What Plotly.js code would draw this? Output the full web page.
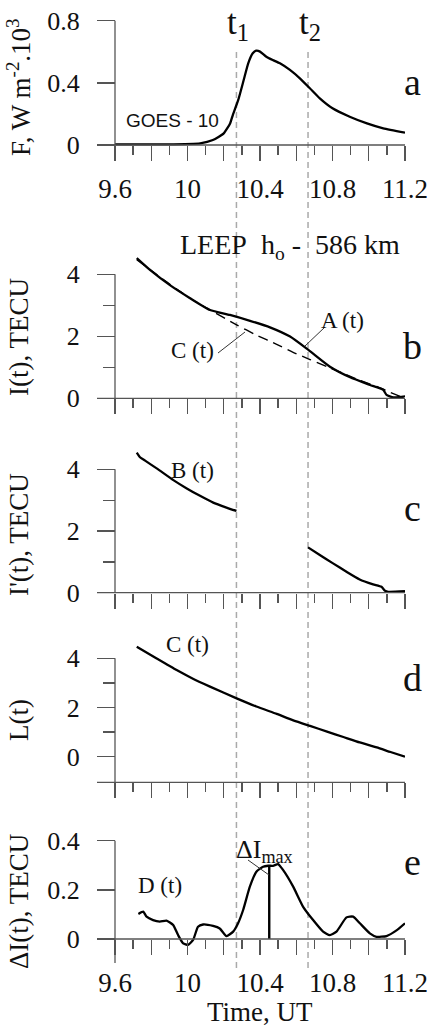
<!DOCTYPE html>
<html>
<head>
<meta charset="utf-8">
<script src="https://cdn.plot.ly/plotly-3.0.1.min.js"></script>
<style>
  html, body { margin: 0; padding: 0; background: #fff; }
  #chart { width: 429px; height: 1026px; }
</style>
</head>
<body>
<div id="chart"></div>
<script>
// ---- data -------------------------------------------------------------
// (a) X-ray flux, GOES-10
const fluxTime = [9.6, 9.885, 10.07, 10.14, 10.2, 10.235, 10.25, 10.28, 10.31, 10.335, 10.36, 10.38, 10.4, 10.435, 10.47, 10.51, 10.565, 10.62, 10.675, 10.73, 10.8, 10.895, 10.99, 11.08, 11.2];
const fluxValue = [0.004, 0.004, 0.011, 0.032, 0.075, 0.139, 0.193, 0.29, 0.418, 0.526, 0.59, 0.607, 0.601, 0.568, 0.547, 0.526, 0.483, 0.429, 0.365, 0.3, 0.236, 0.182, 0.139, 0.107, 0.079];

// (b) observed TEC, A(t)
const tecTime = [9.72, 9.793, 9.903, 10.014, 10.124, 10.234, 10.345, 10.455, 10.566, 10.667, 10.786, 10.897, 11.007, 11.08, 11.098, 11.136, 11.19, 11.2];
const tecValue = [4.52, 4.14, 3.65, 3.23, 2.85, 2.69, 2.50, 2.29, 1.99, 1.56, 1.02, 0.68, 0.43, 0.27, 0.11, 0.03, 0.05, 0.07];

// (c) TEC with the flare interval removed, B(t)
const cutTime = [9.72, 9.738, 9.766, 9.83, 9.922, 9.996, 10.069, 10.142, 10.215, 10.27, 10.4, 10.665, 10.73, 10.803, 10.877, 10.95, 11.024, 11.07, 11.09, 11.108, 11.2];
const cutValue = [4.54, 4.39, 4.28, 4.03, 3.65, 3.38, 3.14, 2.92, 2.76, 2.65, null, 1.47, 1.22, 0.95, 0.68, 0.43, 0.27, 0.19, 0.06, 0.03, 0.05];

// (d) trend fit, C(t)
const trendTime = [9.72, 9.83, 9.94, 10.03, 10.124, 10.271, 10.38, 10.492, 10.58, 10.676, 10.77, 10.86, 10.95, 11.044, 11.12, 11.2];
const trendValue = [4.47, 3.99, 3.52, 3.17, 2.85, 2.37, 2.04, 1.74, 1.49, 1.25, 1.02, 0.80, 0.58, 0.38, 0.19, 0.0];

// (e) TEC deviation, D(t)
const devTime = [9.729, 9.756, 9.774, 9.81, 9.847, 9.884, 9.921, 9.948, 9.976, 10.003, 10.031, 10.058, 10.086, 10.141, 10.178, 10.215, 10.252, 10.279, 10.307, 10.344, 10.38, 10.417, 10.445, 10.472, 10.5, 10.528, 10.583, 10.638, 10.693, 10.748, 10.785, 10.822, 10.877, 10.914, 10.951, 11.006, 11.043, 11.098, 11.153, 11.2];
const devValue = [0.102, 0.111, 0.091, 0.077, 0.071, 0.075, 0.057, 0.016, -0.018, -0.024, -0.004, 0.05, 0.059, 0.053, 0.043, 0.012, 0.03, 0.064, 0.118, 0.213, 0.274, 0.294, 0.298, 0.298, 0.305, 0.28, 0.213, 0.131, 0.077, 0.03, 0.016, 0.03, 0.088, 0.091, 0.064, 0.023, 0.009, 0.012, 0.035, 0.064];

// peak of the deviation
const peakTime = 10.451;
const peakValue = 0.3;

// flare onset / end markers t1, t2
const eventTimes = [10.27, 10.665];
const eventLabels = ['t<sub>1</sub>', 't<sub>2</sub>'];

// axis ticks
const xTickVals = [9.6, 9.8, 10.0, 10.2, 10.4, 10.6, 10.8, 11.0, 11.2];
const xTickText = ['9.6', '', '10', '', '10.4', '', '10.8', '', '11.2'];
const xMinorVals = [9.7, 9.9, 10.1, 10.3, 10.5, 10.7, 10.9, 11.1];
const tecTickVals = [0, 2, 4];
const tecTickText = ['0', '2', '4'];
const tecMinorVals = [1, 3];
const fluxTickVals = [0, 0.4, 0.8];
const fluxTickText = ['0', '0.4', '0.8'];
const devTickVals = [0, 0.2, 0.4];
const devTickText = ['0', '0.2', '0.4'];

// ---- layout helpers ----------------------------------------------------
const W = 429, H = 1026;
const LEFT = 115, RIGHT = 405, TICK_LEFT = 97;
const px = v => v / W;
const py = v => 1 - v / H;
const SERIF = '"Liberation Serif", "Times New Roman", serif';
const INK = '#111';
const AXC = '#555';

// value v0 sits at pixel row p0, v1 at p1; return domain for range [lo, hi]
function yPlacement(v0, p0, v1, p1, lo, hi) {
  const s = (p0 - p1) / (v1 - v0);
  const pLo = p0 + (v0 - lo) * s;
  const pHi = p0 - (hi - v0) * s;
  return { domain: [py(pLo), py(pHi)], range: [lo, hi] };
}

const panels = [
  { place: yPlacement(0, 145, 0.8, 20.7, -0.03, 0.85), axisRow: 145, top: 20.7, bottom: 145,
    tv: fluxTickVals, tt: fluxTickText, minor: [], labels: true },
  { place: yPlacement(0, 398.3, 4, 274.3, -0.15, 4.75), axisRow: 398.3, top: 274.3, bottom: 398.3,
    tv: tecTickVals, tt: tecTickText, minor: tecMinorVals, labels: false },
  { place: yPlacement(0, 592.7, 4, 469.3, -0.15, 4.75), axisRow: 592.7, top: 469.3, bottom: 592.7,
    tv: tecTickVals, tt: tecTickText, minor: tecMinorVals, labels: false },
  { place: yPlacement(0, 756.7, 4, 658.3, -0.25, 4.75), axisRow: 782.3, top: 658.3, bottom: 782.3,
    tv: tecTickVals, tt: tecTickText, minor: tecMinorVals, labels: false },
  { place: yPlacement(0, 939, 0.4, 840.7, -0.05, 0.45), axisRow: 939, top: 840.7, bottom: 963,
    tv: devTickVals, tt: devTickText, minor: [], labels: true }
];

const layout = {
  width: W, height: H,
  margin: { l: 0, r: 0, t: 0, b: 0 },
  paper_bgcolor: '#fff', plot_bgcolor: 'rgba(0,0,0,0)',
  showlegend: false,
  shapes: [], annotations: []
};

panels.forEach((p, i) => {
  const n = i === 0 ? '' : String(i + 1);
  layout['xaxis' + n] = {
    domain: [px(LEFT), px(RIGHT)], range: [9.6, 11.2],
    anchor: 'free', position: py(p.axisRow),
    showline: false, showgrid: false, zeroline: false,
    ticks: 'outside', ticklen: 15, tickwidth: 1.3, tickcolor: AXC,
    tickmode: 'array', tickvals: xTickVals, ticktext: xTickText,
    minor: { tickmode: 'array', tickvals: xMinorVals, ticks: 'outside', ticklen: 9, tickwidth: 1.3, tickcolor: AXC },
    showticklabels: p.labels, ticklabelstandoff: 5,
    tickfont: { family: SERIF, size: 27, color: INK }
  };
  const yax = {
    domain: p.place.domain, range: p.place.range,
    anchor: 'free', position: px(LEFT),
    showline: false, showgrid: false, zeroline: false,
    ticks: 'outside', ticklen: 18, tickwidth: 1.3, tickcolor: AXC,
    tickmode: 'array', tickvals: p.tv, ticktext: p.tt,
    ticklabelstandoff: 12,
    tickfont: { family: SERIF, size: 26, color: INK }
  };
  if (p.minor.length) {
    yax.minor = { tickmode: 'array', tickvals: p.minor, ticks: 'outside', ticklen: 12, tickwidth: 1.3, tickcolor: AXC };
  }
  layout['yaxis' + n] = yax;

  // axis lines
  layout.shapes.push({ type: 'line', xref: 'paper', yref: 'paper',
    x0: px(LEFT), x1: px(LEFT), y0: py(p.top), y1: py(p.bottom),
    line: { color: AXC, width: 1.3 } });
  layout.shapes.push({ type: 'line', xref: 'paper', yref: 'paper',
    x0: px(TICK_LEFT), x1: px(RIGHT), y0: py(p.axisRow), y1: py(p.axisRow),
    line: { color: AXC, width: 1.3 } });
});

// t1 / t2 dashed markers through all panels
eventTimes.forEach((t, i) => {
  layout.shapes.push({ type: 'line', xref: 'x', yref: 'paper', layer: 'below',
    x0: t, x1: t, y0: py(52), y1: py(968),
    line: { color: '#aaa', width: 1.5, dash: '6px,4px' } });
  layout.annotations.push({ xref: 'x', yref: 'paper', x: t, y: py(1), xanchor: 'left', yanchor: 'top', xshift: -11,
    text: eventLabels[i], showarrow: false, font: { family: SERIF, size: 35, color: INK } });
});

// leader lines
[[305, 346, 325, 327], [218, 353, 245, 332], [248, 860, 269, 875]].forEach(s => {
  layout.shapes.push({ type: 'line', xref: 'paper', yref: 'paper',
    x0: px(s[0]), y0: py(s[1]), x1: px(s[2]), y1: py(s[3]),
    line: { color: '#333', width: 1 } });
});

function note(text, x, y, size, opts) {
  layout.annotations.push(Object.assign({
    xref: 'paper', yref: 'paper', x: px(x), y: py(y),
    xanchor: 'center', yanchor: 'middle', text: text, showarrow: false,
    font: { family: SERIF, size: size, color: INK }
  }, opts || {}));
}

// axis titles
note('F, W m<sup>-2</sup>.10<sup>3</sup>', 19, 87, 27, { textangle: -90 });
note('I(t), TECU', 19, 337, 27, { textangle: -90 });
note("I'(t), TECU", 19, 535, 27, { textangle: -90 });
note('L(t)', 19, 720, 27, { textangle: -90 });
note('ΔI(t), TECU', 19, 902, 27, { textangle: -90 });
note('Time, UT', 260, 1012, 27);

// panel letters
note('a', 412, 82, 38);
note('b', 412, 346, 38);
note('c', 412, 508, 38);
note('d', 412, 678, 38);
note('e', 412, 862, 38);

// curve labels
note('GOES - 10', 172, 120, 19, { font: { family: '"Liberation Sans", Arial, sans-serif', size: 19, color: INK } });
note('LEEP\u00a0\u00a0h<sub>o</sub>\u00a0-\u00a0\u00a0586 km', 290, 247, 28);
note('A (t)', 342, 320, 23);
note('C (t)', 192, 351, 23);
note('B (t)', 192, 471, 23);
note('C (t)', 187, 644, 23);
note('D (t)', 160, 885, 23);
note('ΔI<sub>max</sub>', 234, 851, 26, { xanchor: 'left' });

// ---- traces -------------------------------------------------------------
const solid = { color: '#000', width: 2.3, shape: 'spline', smoothing: 0.5 };
const data = [
  { x: fluxTime, y: fluxValue, xaxis: 'x', yaxis: 'y', mode: 'lines', line: solid },
  { x: trendTime, y: trendValue, xaxis: 'x2', yaxis: 'y2', mode: 'lines',
    line: { color: '#000', width: 1.4, dash: '10px,6px', shape: 'spline', smoothing: 0.5 } },
  { x: tecTime, y: tecValue, xaxis: 'x2', yaxis: 'y2', mode: 'lines', line: solid },
  { x: cutTime, y: cutValue, xaxis: 'x3', yaxis: 'y3', mode: 'lines', connectgaps: false, line: solid },
  { x: trendTime, y: trendValue, xaxis: 'x4', yaxis: 'y4', mode: 'lines', line: solid },
  { x: devTime, y: devValue, xaxis: 'x5', yaxis: 'y5', mode: 'lines', line: solid },
  { x: [peakTime, peakTime], y: [0, peakValue], xaxis: 'x5', yaxis: 'y5', mode: 'lines',
    line: { color: '#000', width: 2.4 } }
];

Plotly.newPlot('chart', data, layout, { staticPlot: true, displayModeBar: false });
</script>
</body>
</html>
